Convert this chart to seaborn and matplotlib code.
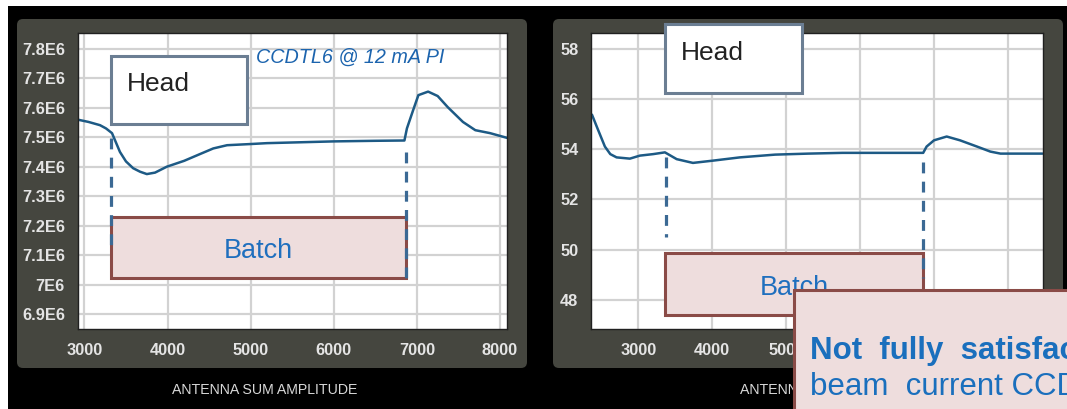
import matplotlib
matplotlib.use("Agg")
import matplotlib.pyplot as plt
import matplotlib.transforms as mtransforms
from matplotlib.patches import Rectangle, FancyBboxPatch
import seaborn as sns

# left screen: antenna sum amplitude (a.u.)
left_x = [2917, 3050, 3188, 3260, 3332, 3428, 3500, 3586, 3670, 3751, 3850,
          3991, 4200, 4391, 4550, 4716, 5000, 5195, 5600, 6004, 6500, 6850,
          6880, 6956, 7018, 7135, 7250, 7372, 7554, 7703, 7880, 8084]
left_y = [7.560, 7.552, 7.541, 7.530, 7.514, 7.450, 7.418, 7.395, 7.383,
          7.375, 7.380, 7.400, 7.420, 7.443, 7.462, 7.473, 7.477, 7.480,
          7.483, 7.486, 7.488, 7.489, 7.530, 7.593, 7.643, 7.655, 7.640,
          7.602, 7.552, 7.524, 7.514, 7.498]
left_y = [v * 1e6 for v in left_y]
left_yticks = [6.9e6, 7.0e6, 7.1e6, 7.2e6, 7.3e6, 7.4e6, 7.5e6, 7.6e6,
               7.7e6, 7.8e6]
left_ylabels = ["6.9E6", "7E6", "7.1E6", "7.2E6", "7.3E6", "7.4E6",
                "7.5E6", "7.6E6", "7.7E6", "7.8E6"]

# right screen
right_x = [2372, 2454, 2547, 2620, 2705, 2885, 3020, 3200, 3359, 3518, 3738,
           4008, 4373, 4851, 5300, 5760, 6300, 6853, 6899, 7000, 7171, 7350,
           7581, 7762, 7899, 8200, 8467]
right_y = [55.37, 54.77, 54.10, 53.80, 53.67, 53.62, 53.74, 53.80, 53.87,
           53.60, 53.45, 53.54, 53.67, 53.78, 53.82, 53.85, 53.85, 53.85,
           54.10, 54.35, 54.50, 54.35, 54.10, 53.90, 53.82, 53.82, 53.82]
right_yticks = [48, 50, 52, 54, 56, 58]

xticks = [3000, 4000, 5000, 6000, 7000, 8000]

W, H = 1067, 409
sns.set_style("whitegrid")
plt.rcParams['font.family'] = ['Liberation Sans', 'DejaVu Sans']

fig = plt.figure(figsize=(W / 100, H / 100), dpi=100, facecolor='white')
# pixel coordinates, origin top-left
px = (mtransforms.Affine2D().scale(1, -1).translate(0, H).scale(1 / 100)
      + fig.dpi_scale_trans)

fig.add_artist(Rectangle((8, 6), W - 8, H - 6, transform=px,
                         facecolor='black', edgecolor='none', zorder=-3))
for x0, x1 in [(17, 527), (553, 1063)]:
    fig.add_artist(FancyBboxPatch((x0, 19), x1 - x0, 349, transform=px,
                                  boxstyle="round,pad=0,rounding_size=6",
                                  facecolor='#45463f', edgecolor='none',
                                  zorder=-2))


def make_axes(rect, xs, ys, xlim, ylim, yticks, ylabels):
    left, top, right, bottom = rect
    ax = fig.add_axes([left / W, 1 - bottom / H, (right - left) / W,
                       (bottom - top) / H])
    ax.set_facecolor('white')
    sns.lineplot(x=xs, y=ys, ax=ax, color='#1d5a85', linewidth=1.8)
    ax.set_xlim(*xlim)
    ax.set_ylim(*ylim)
    ax.set_xticks(xticks, [str(t) for t in xticks])
    ax.set_yticks(yticks, ylabels)
    ax.grid(True, color='#d2d2d2', linewidth=1.6)
    ax.set_axisbelow(True)
    for s in ax.spines.values():
        s.set_color('#202020')
        s.set_linewidth(1.0)
    ax.tick_params(axis='both', colors='#a0a0a0', length=5, width=1.2,
                   labelcolor='#e4e4e4', labelsize=11.8)
    ax.tick_params(axis='x', pad=5)
    ax.tick_params(axis='y', pad=4)
    for lab in ax.get_xticklabels() + ax.get_yticklabels():
        lab.set_fontweight('bold')
    ax.set_xlabel('')
    ax.set_ylabel('')
    return ax


ax1 = make_axes((77.5, 33, 507, 329), left_x, left_y, (2917, 8084),
                (6.849e6, 7.854e6), left_yticks, left_ylabels)
ax2 = make_axes((591, 33, 1042.5, 329), right_x, right_y, (2359, 8467),
                (46.84, 58.62), right_yticks, [str(t) for t in right_yticks])

head_edge = '#6b7e93'
batch_face = '#eedddd'
batch_edge = '#8a4b47'
blue = '#1f6fbe'


def box(x, y, w, h, face, edge, z=3):
    fig.add_artist(Rectangle((x, y), w, h, transform=px, facecolor=face,
                             edgecolor=edge, linewidth=2.2, zorder=z))


def dashed(x, y0, y1):
    fig.add_artist(plt.Line2D([x, x], [y0, y1], transform=px,
                              color='#3b6994', linewidth=2.3,
                              linestyle=(0, (3.4, 2.6)), zorder=4))


# left screen annotations
box(111, 56, 136, 68, 'white', head_edge)
fig.text(126.5, 91, 'Head', transform=px, fontsize=19, color='#222222',
         va='baseline', zorder=5)
box(111, 217, 295, 61, batch_face, batch_edge)
fig.text(258, 258, 'Batch', transform=px, fontsize=19.5, color=blue,
         ha='center', va='baseline', zorder=5)
dashed(111, 138, 248)
dashed(406, 152, 278)
fig.text(256.5, 63, 'CCDTL6 @ 12 mA PI', transform=px, fontsize=14.2,
         style='italic', color='#1c64ae', va='baseline', zorder=5)
fig.text(265, 394, 'ANTENNA SUM AMPLITUDE', transform=px, fontsize=10.2,
         color='#d8d8d8', ha='center', va='baseline')

# right screen annotations
box(665, 24, 137, 69, 'white', head_edge)
fig.text(680.5, 60, 'Head', transform=px, fontsize=19, color='#222222',
         va='baseline', zorder=5)
box(665, 253, 258, 62, batch_face, batch_edge)
fig.text(794, 295, 'Batch', transform=px, fontsize=19.5, color=blue,
         ha='center', va='baseline', zorder=5)
dashed(666, 157, 237)
dashed(923, 162, 278)
fig.text(833, 394, 'ANTENNA SUM AMPLITUDE', transform=px, fontsize=10.2,
         color='#d8d8d8', ha='center', va='baseline')

# overlay note box
box(794, 290, 300, 140, batch_face, batch_edge, z=8)
fig.text(810, 359, 'Not  fully  satisfactory', transform=px, fontsize=22.5,
         fontweight='bold', color='#1a6fbd', va='baseline', zorder=9)
fig.text(810, 395, 'beam  current CCDTL6', transform=px, fontsize=22.5,
         color='#1a6fbd', va='baseline', zorder=9)

fig.savefig('out.png', dpi=100, facecolor='white')
